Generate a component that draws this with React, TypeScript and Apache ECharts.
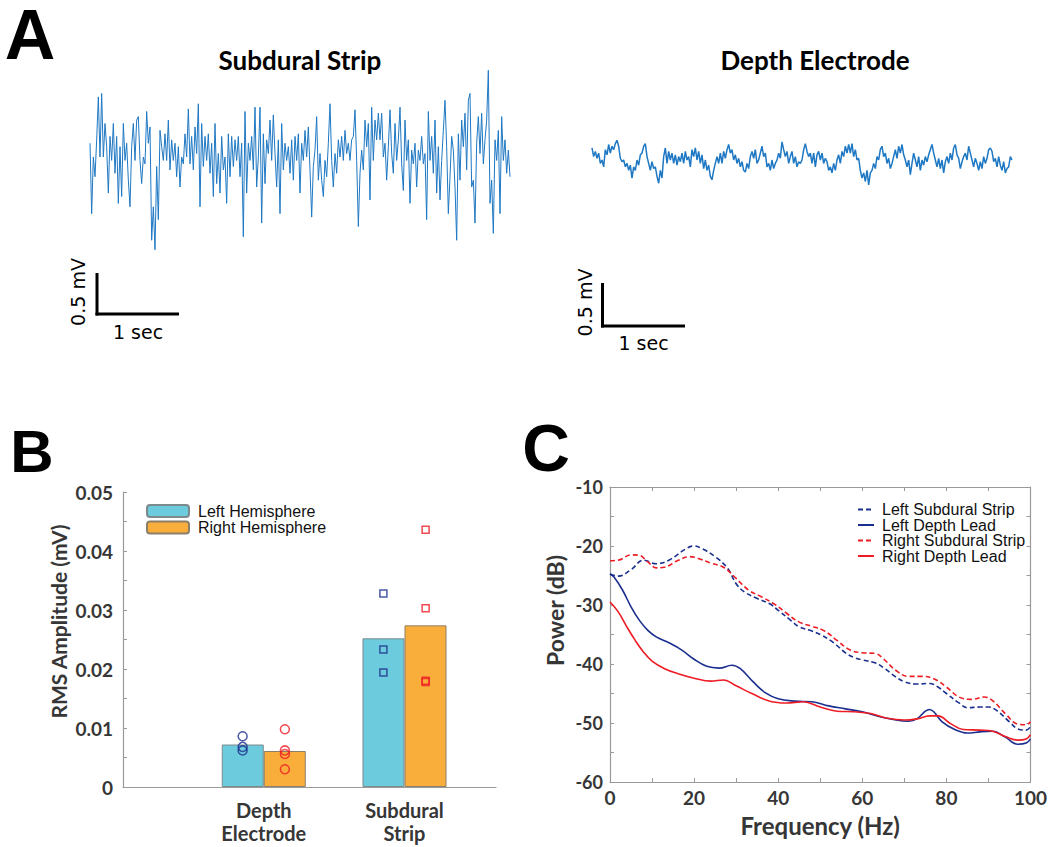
import React, { useEffect, useRef } from 'react';
import * as echarts from 'echarts';

// ---------- Panel A: traces (mV), one sample every 0.02 s ----------
const SAMPLE_SEC = 0.02;
const SUBDURAL_TRACE = [
  0.08, -0.74, -0.08, -0.31, 0.12, 0.62, -0.08, 0.66, -0.08, 0.31,
  0.04, -0.5, 0.16, -0.12, 0.31, -0.27, 0.16, -0.62, 0.04, -0.54,
  0.31, -0.12, 0.08, -0.35, -0.66, 0.04, 0.31, -0.12, 0.35, 0.39,
  -0.12, -0.39, -0.08, -0.16, 0.45, 0.08, 0.27, -1.05, -0.66, -1.16,
  -0.19, -0.81, 0.23, 0.04, -0.12, 0.19, -0.12, 0.35, -0.23, 0.12,
  -0.12, 0.08, -0.31, 0.04, -0.43, -0.08, -0.16, 0.19, -0.08, 0.48,
  -0.16, 0.16, -0.23, 0.27, -0.04, 0.54, -0.66, 0.31, -0.19, 0.16,
  -0.12, 0.19, -0.27, 0.08, -0.54, 0.31, -0.39, -0.04, -0.5, 0.16,
  -0.23, -0.08, -0.62, 0.19, -0.31, 0.16, -0.19, 0.12, -0.12, 0.16,
  -0.31, 0.08, -1.01, 0.45, -0.5, 0.08, -0.12, 0.16, -0.23, 0.5,
  -0.43, -0.08, 0.5, -0.85, 0.19, -0.39, 0.12, -0.04, 0.35, -0.12,
  0.41, -0.04, -0.43, 0.12, -0.74, 0.31, -0.23, 0.08, -0.12, 0.04,
  -0.27, 0.12, -0.35, 0.16, -0.12, 0.19,
  -0.5, 0.08, -0.12, 0.23, -0.08, 0.27, -0.23, -0.78, -0.19, 0,
  0.39, -0.35, -0.04, -0.35, -0.54, -0.12, -0.31, 0.08, 0.54, -0.12,
  -0.43, -0.04, -0.27, 0.12, -0.08, 0.16, -0.12, 0.23, -0.04, 0.08,
  -0.12, 0.12, 0.16, 0.47, -0.12, -0.89, -0.27, 0, -0.23, 0.35,
  0.04, 0.31, -0.58, 0.5, -0.12, 0.35, 0.12, 0.43, 0.12, 0.43,
  -0.08, 0.08, -0.35, 0.04, 0.47, -0.04, -0.27, 0.31, -0.12, 0.12,
  0.5, -0.16, -0.47, 0.35, -0.12, 0.12, -0.62, 0, -0.16, 0.08,
  -0.43, 0, -0.12, 0.16, -0.16, -0.04, -0.81, 0.45, -0.12, 0.16,
  -0.27, 0.35, -0.5, 0.04, -0.58, -0.12, 0.23, 0.58, 0.04, -0.74,
  -0.31, 0.16, 0, -0.43, -1.05, 0.19, -0.35, 0.35, 0.04, 0.43,
  -0.23, 0.58, 0.66, -0.43, -0.35, -0.85, 0.08, 0.39, -0.04, 0.43,
  -0.16, 0.12, 0.35, 0.93, -0.62, -0.35, -0.97, 0.12, -0.12, 0.23,
  -0.74, 0.39, -0.12, 0.12, -0.27, 0, -0.31,
];
const DEPTH_TRACE = [
  0.12, 0.02, 0.08, 0, 0.06, -0.06, -0.02, -0.1, 0.1, 0.04,
  0.16, 0.06, 0.14, 0.1, 0.17, 0.21, 0.14, 0, -0.04, -0.02,
  -0.1, -0.06, -0.14, -0.08, -0.23, -0.1, -0.14, -0.02, -0.08, 0.04,
  0.06, 0.14, 0.17, 0.02, -0.06, -0.14, -0.04, -0.12, -0.1, -0.21,
  -0.29, -0.14, -0.23, 0.02, 0.12, -0.06, 0.08, -0.02, 0.06, -0.06,
  0.04, -0.08, 0.02, -0.04, 0.06, -0.06, 0.08, -0.02, 0.02, -0.1,
  0.1, 0.02, 0.12, -0.02, 0.08, -0.06, 0.04, -0.12, -0.02, -0.14,
  -0.08, -0.21, -0.25, -0.14, -0.06, 0.02, -0.06, 0.06, -0.06, 0.08,
  0, 0.1, 0.16, 0.06, 0.1, -0.02, 0.04, -0.06, 0, -0.1,
  -0.04, -0.14, -0.16, -0.06, -0.12, 0.02, 0.08, 0, 0.1, -0.06,
  -0.02, 0.06, 0.14, 0.02, 0.06, -0.1, -0.06, -0.14, -0.02, -0.12,
  -0.06, -0.02, 0.06, 0, 0.19, 0.1, 0.02, 0.08, -0.06, 0.02,
  0.08, -0.06, 0.02, -0.1, -0.04, -0.06,
  -0.02, 0.1, 0.17, 0.08, 0.02, 0.06, -0.06, 0.06, -0.1, 0.04,
  0.08, -0.02, 0.06, -0.06, 0, -0.04, -0.14, -0.1, -0.17, -0.06,
  -0.14, -0.02, 0.04, -0.06, 0.08, 0.02, 0.14, 0.06, 0.16, 0.06,
  0.17, 0.02, 0.1, -0.02, 0, -0.14, -0.23, -0.17, -0.27, -0.14,
  -0.31, -0.17, -0.14, -0.06, -0.12, 0.02, -0.02, 0.1, 0.14, 0.02,
  0.06, -0.06, 0, -0.12, -0.06, 0.02, 0.1, 0, 0.14, 0.06,
  0.16, 0.04, -0.02, -0.1, -0.02, -0.19, -0.06, 0.06, -0.02, -0.1,
  0.02, -0.14, -0.02, -0.08, 0.02, -0.04, 0.04, 0.1, 0.16, 0.06,
  -0.02, -0.1, 0, -0.12, -0.02, -0.17, -0.04, 0.02, -0.06, 0.06,
  -0.02, 0.12, 0.16, 0.04, 0, -0.12, -0.04, 0.02, 0.06, -0.02,
  0.14, 0.06, -0.02, -0.1, 0, -0.06, -0.14, -0.04, -0.12, 0.02,
  -0.06, 0, 0.1, 0.12, 0.08, -0.04, 0, -0.1, 0.02, -0.08,
  -0.14, -0.04, -0.17, -0.12, -0.1, 0.02, -0.02,
];

// ---------- Panel B: RMS amplitude (mV) ----------
const BAR_CATEGORIES = ['Depth\nElectrode', 'Subdural\nStrip'];
const BAR_POSITIONS = [1, 2];
const LEFT_HEMI_RMS = [0.0072, 0.0252];
const RIGHT_HEMI_RMS = [0.0061, 0.0274];
const LEFT_DEPTH_POINTS = [0.0086, 0.0068, 0.0062];
const RIGHT_DEPTH_POINTS = [0.0098, 0.0062, 0.0056, 0.003];
const LEFT_STRIP_POINTS = [0.0328, 0.0233, 0.0194];
const RIGHT_STRIP_POINTS = [0.0436, 0.0303, 0.018, 0.0178];

// ---------- Panel C: power spectra [Hz, dB] ----------
const LEFT_SUBDURAL_PSD = [
  [0, -24.8], [2, -25.1], [5, -24], [8, -22.4], [11, -23], [14, -22.4], [18, -20.5], [20, -20],
  [22, -20.5], [25, -21.8], [28, -23.8], [30, -26.4], [32, -27.8], [35, -28.9], [38, -29.8],
  [40, -30.9], [43, -32.6], [45, -33.7], [48, -34.4], [50, -35], [53, -36.3], [56, -38.1],
  [58, -38.9], [60, -39.3], [63, -39.8], [65, -40.6], [68, -42.2], [70, -43], [73, -43.4],
  [76, -43.3], [78, -43.9], [80, -45], [83, -46.6], [85, -47.4], [88, -47.3], [90, -47.3],
  [92, -47.9], [95, -49.8], [97, -51], [99, -51.2], [100, -50.6],
];
const LEFT_DEPTH_PSD = [
  [0, -24.7], [1, -25.3], [3, -27.5], [5, -30.3], [7, -32.6], [9, -34.3], [11, -35.4], [14, -36.4],
  [17, -37.6], [20, -39.2], [23, -40.4], [26, -40.7], [29, -40.2], [31, -40.8], [34, -43],
  [37, -44.9], [40, -45.9], [44, -46.3], [48, -46.4], [52, -47.1], [56, -47.6], [60, -48.1],
  [64, -48.9], [68, -49.5], [71, -49.7], [73, -49.3], [75, -48], [76, -47.7], [77, -48.1],
  [79, -49.8], [82, -51.1], [85, -51.7], [88, -51.5], [91, -51.4], [94, -52.4], [97, -53.6],
  [99, -53.4], [100, -52.7],
];
const RIGHT_SUBDURAL_PSD = [
  [0, -22.5], [2, -22.4], [5, -21.5], [7, -21.6], [9, -22.7], [11, -23.7], [13, -23.6], [16, -22.5],
  [19, -21.8], [21, -22.1], [24, -22.9], [27, -23.6], [30, -25.5], [33, -27.5], [36, -28.6],
  [39, -29.8], [42, -31.4], [45, -32.9], [48, -33.6], [51, -34.4], [54, -36], [57, -37.6],
  [60, -38.1], [63, -38.2], [65, -39.1], [68, -41.1], [71, -42.1], [74, -42.1], [77, -42.5],
  [80, -43.9], [83, -45.6], [86, -46], [89, -45.6], [91, -46.2], [94, -48.4], [97, -50.2],
  [99, -50.3], [100, -49.8],
];
const RIGHT_DEPTH_PSD = [
  [0, -29.5], [2, -31.2], [4, -33.7], [6, -36], [8, -38], [10, -39.5], [13, -40.8], [16, -41.6],
  [20, -42.4], [24, -42.9], [27, -42.7], [30, -43.7], [34, -45.1], [38, -46.3], [42, -46.6],
  [46, -46.4], [50, -47.3], [54, -48], [58, -48.1], [62, -48.4], [66, -49.2], [70, -49.5],
  [73, -49.3], [76, -48.8], [78, -48.8], [81, -50.1], [84, -51.1], [88, -51.2], [91, -51.4],
  [94, -52.3], [97, -52.9], [99, -52.7], [100, -52],
];
const PSD_NAMES = ['Left Subdural Strip', 'Left Depth Lead', 'Right Subdural Strip', 'Right Depth Lead'];

const TRACE_COLOR = '#1f78c3';
const NAVY = '#1b2f8e';
const RED = '#ee1c24';
const AXIS_GREY = '#9a9a9a';
const LABEL_COLOR = '#363636';
const BOLD_FONT = 'Lato';

function App() {
  const ref = useRef<HTMLDivElement>(null);

  useEffect(() => {
    if (!ref.current) return;
    const chart = echarts.init(ref.current, null, { renderer: 'svg' });

    const fmtB = (v: number) => {
      const k = Math.round(v * 1000);
      if (k % 10 !== 0) return '';
      return k === 0 ? '0' : (k / 1000).toFixed(2);
    };
    const fmtCx = (v: number) => (Math.round(v) % 20 === 0 ? String(Math.round(v)) : '');
    const fmtCy = (v: number) => (Math.round(v) % 10 === 0 ? String(Math.round(v)) : '');
    const fmtBx = (v: number) => {
      const i = BAR_POSITIONS.indexOf(Math.round(v * 100) / 100);
      return i >= 0 ? BAR_CATEGORIES[i] : '';
    };

    const boldLabel = (size: number) => ({
      fontFamily: BOLD_FONT,
      fontWeight: 'bold' as const,
      fontSize: size,
      color: LABEL_COLOR,
    });

    const traceSeries = (trace: number[], idx: number, width: number) => ({
      type: 'line',
      xAxisIndex: idx,
      yAxisIndex: idx,
      data: trace.map((v, i) => [i * SAMPLE_SEC, v]),
      symbol: 'none',
      lineStyle: { color: TRACE_COLOR, width },
      silent: true,
    });

    const scatter = (vals: number[], xPos: number, symbol: string, color: string, size: number) => ({
      type: 'scatter',
      xAxisIndex: 2,
      yAxisIndex: 2,
      data: vals.map((v) => [xPos, v]),
      symbol,
      symbolSize: size,
      itemStyle: { color: 'rgba(0,0,0,0)', borderColor: color, borderWidth: 1.5 },
      z: 5,
      silent: true,
    });

    const psd = (name: string, data: number[][], color: string, dashed: boolean) => ({
      name,
      type: 'line',
      xAxisIndex: 3,
      yAxisIndex: 3,
      data,
      smooth: 0.4,
      symbol: 'none',
      lineStyle: { color, width: 1.6, type: dashed ? [5, 3] : 'solid' },
      itemStyle: { color },
    });

    const cTick = { show: true, inside: true, length: 4, lineStyle: { color: AXIS_GREY } };
    const cLine = { show: true, onZero: false, lineStyle: { color: AXIS_GREY, width: 1.2 } };

    const option: any = {
      animation: false,
      backgroundColor: '#ffffff',
      grid: [
        { left: 90, top: 60, width: 420, height: 200 },
        { left: 592, top: 120, width: 420, height: 80 },
        { left: 123, top: 492, width: 373, height: 295 },
        { left: 610, top: 487, width: 421, height: 295 },
      ],
      xAxis: [
        { gridIndex: 0, type: 'value', min: 0, max: (SUBDURAL_TRACE.length - 1) * SAMPLE_SEC, show: false },
        { gridIndex: 1, type: 'value', min: 0, max: (DEPTH_TRACE.length - 1) * SAMPLE_SEC, show: false },
        {
          gridIndex: 2, type: 'value', min: 0, max: 2.65, interval: 1,
          axisLine: { show: true, lineStyle: { color: AXIS_GREY, width: 1.2 } },
          axisTick: { show: false },
          splitLine: { show: false },
          axisLabel: { ...boldLabel(20), formatter: fmtBx, lineHeight: 23, margin: 11, showMaxLabel: false },
        },
        {
          gridIndex: 3, type: 'value', min: 0, max: 100, interval: 10, position: 'bottom',
          axisLine: cLine, axisTick: cTick, splitLine: { show: false },
          axisLabel: { ...boldLabel(19), formatter: fmtCx, margin: 6 },
          name: 'Frequency (Hz)', nameLocation: 'middle', nameGap: 31,
          nameTextStyle: { ...boldLabel(24) },
        },
        {
          gridIndex: 3, type: 'value', min: 0, max: 100, interval: 10, position: 'top',
          axisLine: cLine, axisTick: cTick, splitLine: { show: false }, axisLabel: { show: false },
        },
      ],
      yAxis: [
        { gridIndex: 0, type: 'value', min: -1.28, max: 1.05, show: false },
        { gridIndex: 1, type: 'value', min: -0.485, max: 0.445, show: false },
        {
          gridIndex: 2, type: 'value', min: 0, max: 0.05, interval: 0.005,
          axisLine: { show: true, lineStyle: { color: AXIS_GREY, width: 1.2 } },
          axisTick: { show: true, inside: true, length: 4, lineStyle: { color: AXIS_GREY } },
          splitLine: { show: false },
          axisLabel: { ...boldLabel(19), formatter: fmtB, margin: 10 },
        },
        {
          gridIndex: 3, type: 'value', min: -60, max: -10, interval: 5, position: 'left',
          axisLine: cLine, axisTick: cTick, splitLine: { show: false },
          axisLabel: { ...boldLabel(18), formatter: fmtCy, margin: 7 },
        },
        {
          gridIndex: 3, type: 'value', min: -60, max: -10, interval: 5, position: 'right',
          axisLine: cLine, axisTick: cTick, splitLine: { show: false }, axisLabel: { show: false },
        },
      ],
      legend: [
        {
          data: ['Left Hemisphere', 'Right Hemisphere'],
          left: 146, top: 503, orient: 'vertical', padding: 0,
          itemWidth: 42, itemHeight: 12, itemGap: 0.4,
          selectedMode: false,
          textStyle: { fontFamily: 'Liberation Sans', fontSize: 16, color: '#111', padding: [0, 0, 0, 4] },
        },
        {
          data: PSD_NAMES,
          left: 857, top: 501.5, orient: 'vertical', padding: 0,
          itemWidth: 16, itemHeight: 10, itemGap: -0.5,
          selectedMode: false,
          itemStyle: { opacity: 0 },
          textStyle: { fontFamily: 'Liberation Sans', fontSize: 16, color: '#111', padding: [0, 0, 0, 3] },
        },
      ],
      series: [
        traceSeries(SUBDURAL_TRACE, 0, 1),
        traceSeries(DEPTH_TRACE, 1, 1.5),
        {
          name: 'Left Hemisphere', type: 'bar', xAxisIndex: 2, yAxisIndex: 2,
          data: BAR_POSITIONS.map((x, i) => [x, LEFT_HEMI_RMS[i]]),
          barWidth: 42, barGap: '0%',
          itemStyle: { color: '#6ccbdc', borderColor: '#7c8a8c', borderWidth: 1 },
        },
        {
          name: 'Right Hemisphere', type: 'bar', xAxisIndex: 2, yAxisIndex: 2,
          data: BAR_POSITIONS.map((x, i) => [x, RIGHT_HEMI_RMS[i]]),
          barWidth: 42, barGap: '0%',
          itemStyle: { color: '#f9ae3b', borderColor: '#8c7f6a', borderWidth: 1 },
        },
        scatter(LEFT_DEPTH_POINTS, BAR_POSITIONS[0] - 0.15, 'circle', NAVY, 9),
        scatter(RIGHT_DEPTH_POINTS, BAR_POSITIONS[0] + 0.15, 'circle', RED, 9),
        scatter(LEFT_STRIP_POINTS, BAR_POSITIONS[1] - 0.15, 'rect', NAVY, 7),
        scatter(RIGHT_STRIP_POINTS, BAR_POSITIONS[1] + 0.15, 'rect', RED, 7),
        psd(PSD_NAMES[0], LEFT_SUBDURAL_PSD, NAVY, true),
        psd(PSD_NAMES[1], LEFT_DEPTH_PSD, NAVY, false),
        psd(PSD_NAMES[2], RIGHT_SUBDURAL_PSD, RED, true),
        psd(PSD_NAMES[3], RIGHT_DEPTH_PSD, RED, false),
      ],
      graphic: [
        { type: 'text', x: 30, y: 0, style: { text: 'A', fill: '#000', font: 'bold 70px "Liberation Sans"', align: 'center', verticalAlign: 'top' } },
        { type: 'text', x: 32, y: 451, style: { text: 'B', fill: '#000', font: 'bold 60px "Liberation Sans"', align: 'center', verticalAlign: 'middle' } },
        { type: 'text', x: 546, y: 447.5, style: { text: 'C', fill: '#000', font: 'bold 66px "Liberation Sans"', align: 'center', verticalAlign: 'middle' } },
        { type: 'text', x: 300, y: 59.5, style: { text: 'Subdural Strip', fill: '#000', font: 'bold 26px Lato', align: 'center', verticalAlign: 'middle' } },
        { type: 'text', x: 815, y: 59.5, style: { text: 'Depth Electrode', fill: '#000', font: 'bold 26px Lato', align: 'center', verticalAlign: 'middle' } },
        // axis titles
        { type: 'text', x: 58, y: 621.5, rotation: Math.PI / 2, style: { text: 'RMS Amplitude (mV)', fill: LABEL_COLOR, font: 'bold 21px Lato', align: 'center', verticalAlign: 'middle' } },
        { type: 'text', x: 555, y: 610.5, rotation: Math.PI / 2, style: { text: 'Power (dB)', fill: LABEL_COLOR, font: 'bold 23px Lato', align: 'center', verticalAlign: 'middle' } },
        // scale bars
        { type: 'line', shape: { x1: 97, y1: 273, x2: 97, y2: 315.5 }, style: { stroke: '#000', lineWidth: 3 } },
        { type: 'line', shape: { x1: 95.5, y1: 314, x2: 179, y2: 314 }, style: { stroke: '#000', lineWidth: 3 } },
        { type: 'text', x: 138, y: 332, style: { text: '1 sec', fill: '#000', font: '19px "DejaVu Sans"', align: 'center', verticalAlign: 'middle' } },
        { type: 'text', x: 78, y: 292, rotation: Math.PI / 2, style: { text: '0.5 mV', fill: '#000', font: '19px "DejaVu Sans"', align: 'center', verticalAlign: 'middle' } },
        { type: 'line', shape: { x1: 602.5, y1: 283, x2: 602.5, y2: 327.5 }, style: { stroke: '#000', lineWidth: 3 } },
        { type: 'line', shape: { x1: 601, y1: 326, x2: 685, y2: 326 }, style: { stroke: '#000', lineWidth: 3 } },
        { type: 'text', x: 643.5, y: 343, style: { text: '1 sec', fill: '#000', font: '19px "DejaVu Sans"', align: 'center', verticalAlign: 'middle' } },
        { type: 'text', x: 584.5, y: 302.5, rotation: Math.PI / 2, style: { text: '0.5 mV', fill: '#000', font: '19px "DejaVu Sans"', align: 'center', verticalAlign: 'middle' } },
      ],
    };

    chart.setOption(option);
    return () => chart.dispose();
  }, []);

  return (
    <div
      ref={ref}
      style={{ position: 'absolute', left: 0, top: 0, width: 1050, height: 847, background: '#fff' }}
    />
  );
}

export default App;
